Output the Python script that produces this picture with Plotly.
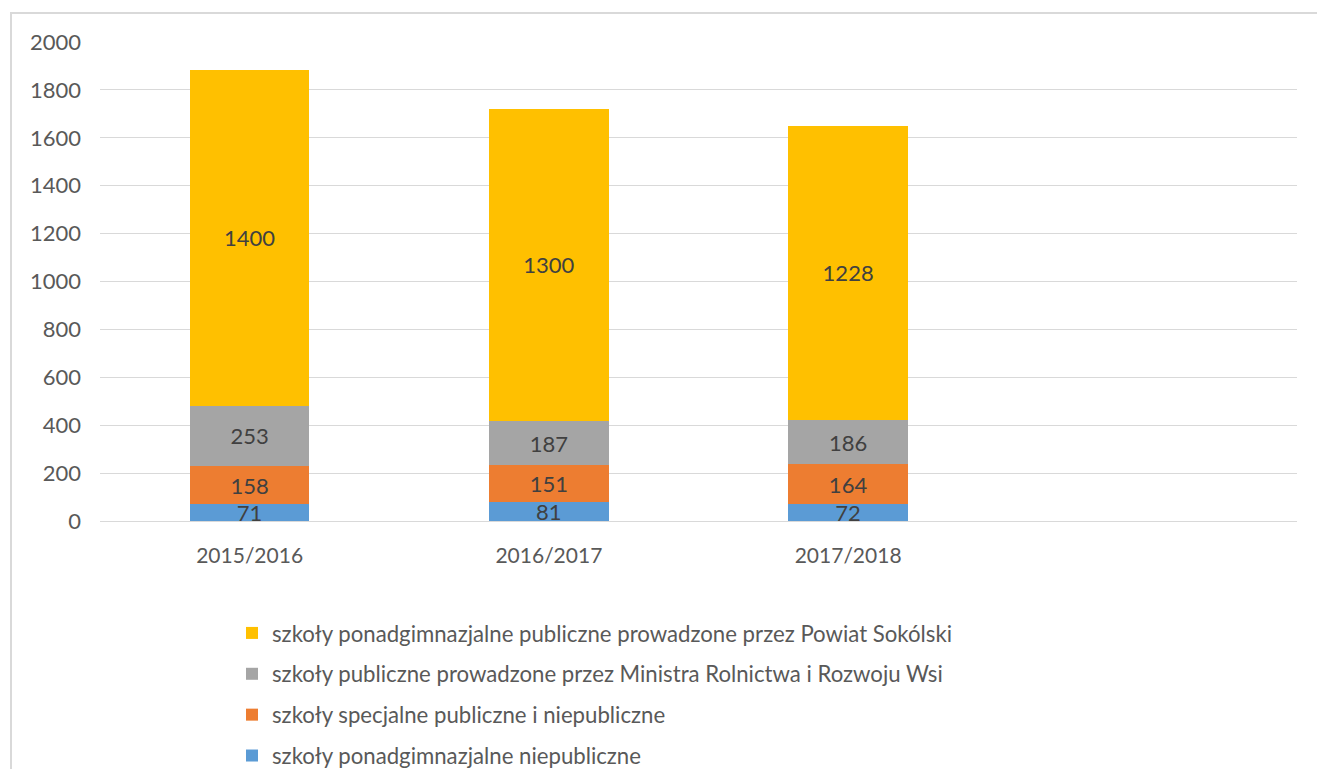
import plotly.graph_objects as go

categories = ["2015/2016", "2016/2017", "2017/2018"]
series_names = [
    "szkoły ponadgimnazjalne niepubliczne",
    "szkoły specjalne publiczne i niepubliczne",
    "szkoły publiczne prowadzone przez Ministra Rolnictwa i Rozwoju Wsi",
    "szkoły ponadgimnazjalne publiczne prowadzone przez Powiat Sokólski",
]
niepubliczne = [71, 81, 72]
specjalne = [158, 151, 164]
ministra = [253, 187, 186]
powiat = [1400, 1300, 1228]
series_values = [niepubliczne, specjalne, ministra, powiat]
colors = ["#5B9BD5", "#ED7D31", "#A5A5A5", "#FFC000"]
y_ticks = [0, 200, 400, 600, 800, 1000, 1200, 1400, 1600, 1800, 2000]

FONT = "Lato"
W, H = 1317, 769
L, R, T, B = 100, 20, 42, 248
pw, ph = W - L - R, H - T - B

fig = go.Figure()
for i, (name, vals, col) in enumerate(zip(series_names, series_values, colors)):
    fig.add_trace(go.Bar(
        x=categories, y=vals, name=name,
        marker=dict(color=col, line=dict(width=0)),
        text=[str(v) for v in vals], textposition="inside",
        insidetextanchor="middle", textangle=0,
        textfont=dict(family=FONT, size=22, color="#404040"),
        width=0.4, legendgroup=f"g{i}", legendrank=len(series_names) - i,
        hoverinfo="x+y+name",
    ))

def px_x(p):
    return (p - L) / pw

def px_y(p):
    return (H - B - p) / ph

fig.update_layout(
    width=W, height=H,
    margin=dict(l=L, r=R, t=T, b=B, autoexpand=False),
    barmode="stack",
    plot_bgcolor="white", paper_bgcolor="white",
    font=dict(family=FONT, size=22, color="#595959"),
    uniformtext=dict(minsize=22, mode="show"),
    xaxis=dict(
        type="category", categoryarray=categories + [" "],
        range=[-0.5, 3.5], showgrid=False, showline=True,
        linecolor="#D9D9D9", linewidth=1, ticks="",
        tickfont=dict(family=FONT, size=21, color="#595959"),
        ticklabelstandoff=16, fixedrange=True,
    ),
    yaxis=dict(
        range=[0, 2000], tickvals=y_ticks, showgrid=True,
        gridcolor="#D9D9D9", gridwidth=1, zeroline=False, showline=False,
        ticks="", tickfont=dict(family=FONT, size=22, color="#595959"),
        ticklabelstandoff=18, fixedrange=True,
    ),
    showlegend=True,
    legend=dict(
        orientation="v", traceorder="grouped", tracegroupgap=9,
        x=px_x(232), y=px_y(612), xanchor="left", yanchor="top",
        font=dict(family=FONT, size=22.2, color="#595959"),
        bgcolor="rgba(0,0,0,0)",
    ),
    shapes=[dict(
        type="rect", xref="paper", yref="paper",
        x0=px_x(11), x1=px_x(1340), y0=px_y(790), y1=px_y(13),
        line=dict(color="#D9D9D9", width=2), fillcolor="rgba(0,0,0,0)",
        layer="below",
    )],
)

fig.write_html(
    "out.html",
    config={"displayModeBar": False},
    post_script="document.body.style.margin='0';document.body.style.overflow='hidden';",
)
